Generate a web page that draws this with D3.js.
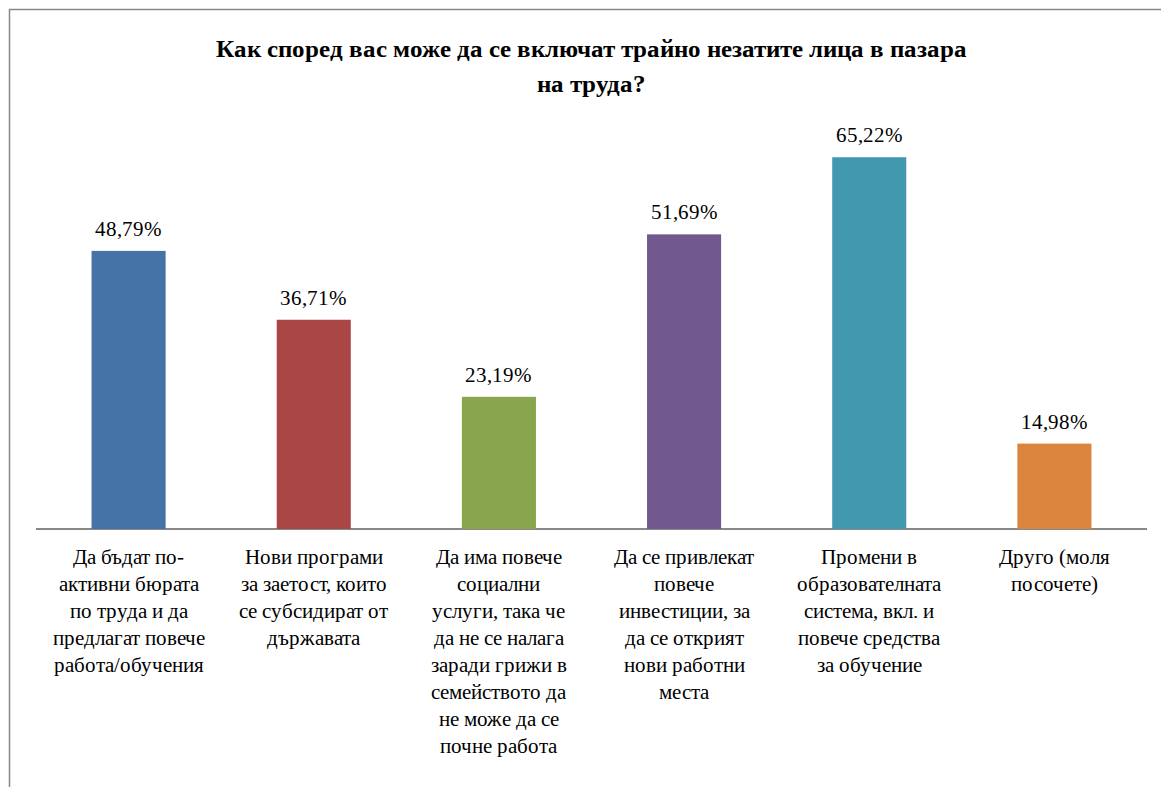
<!doctype html>
<html>
<head>
<meta charset="UTF-8">
<script src="https://d3js.org/d3.v7.min.js"></script>
<style>
@font-face { font-family: "ChartSerif"; src: local("Liberation Serif"), local("LiberationSerif"); font-weight: normal; }
@font-face { font-family: "ChartSerif"; src: local("Liberation Serif Bold"), local("LiberationSerif-Bold"); font-weight: bold; }
body { margin: 0; }
</style>
</head>
<body>
<script>
// data
var categories = [
  ["Да бъдат по-", "активни бюрата", "по труда и да", "предлагат повече", "работа/обучения"],
  ["Нови програми", "за заетост, които", "се субсидират от", "държавата"],
  ["Да има повече", "социални", "услуги, така че", "да не се налага", "заради грижи в", "семейството да", "не може да се", "почне работа"],
  ["Да се привлекат", "повече", "инвестиции, за", "да се открият", "нови работни", "места"],
  ["Промени в", "образователната", "система, вкл. и", "повече средства", "за обучение"],
  ["Друго (моля", "посочете)"]
];
var values = [48.79, 36.71, 23.19, 51.69, 65.22, 14.98];
var colors = ["#4572A7", "#AA4643", "#89A54E", "#71588F", "#4198AF", "#DB843D"];
var titleLines = ["Как според вас може да се включат трайно незатите лица в пазара", "на труда?"];

var FONT = "ChartSerif, 'Liberation Serif', serif";
var W = 1161, H = 787;
var svg = d3.select("body").append("svg")
  .attr("width", W).attr("height", H)
  .style("font-family", FONT);

// outer frame
svg.append("rect")
  .attr("x", 9.5).attr("y", 9.5)
  .attr("width", W + 20).attr("height", H + 20)
  .attr("fill", "none").attr("stroke", "#888").attr("stroke-width", 1.5);

var x = d3.scaleBand()
  .domain(d3.range(values.length))
  .range([36, 1147])
  .paddingInner(0.6).paddingOuter(0.3);

var y = d3.scaleLinear().domain([0, 70]).range([529, 130]);

// x axis (line only)
var gx = svg.append("g")
  .attr("transform", "translate(0," + y(0) + ")")
  .call(d3.axisBottom(x).tickSize(0).tickFormat(""));
gx.select(".domain").attr("stroke", "#888").attr("stroke-width", 2).attr("d", "M36,0H1147");

// bars
svg.selectAll(".bar").data(values).enter().append("rect")
  .attr("class", "bar")
  .attr("x", function(d, i) { return x(i); })
  .attr("y", function(d) { return y(d); })
  .attr("width", x.bandwidth())
  .attr("height", function(d) { return y(0) - y(d); })
  .attr("fill", function(d, i) { return colors[i]; });

// title
titleLines.forEach(function(t, i) {
  svg.append("text")
    .attr("x", 591).attr("y", 57 + i * 35)
    .attr("text-anchor", "middle")
    .style("font-family", FONT)
    .style("font-size", "25px").style("font-weight", "bold")
    .text(t);
});

// value labels
values.forEach(function(v, i) {
  svg.append("text")
    .attr("x", x(i) + x.bandwidth() / 2)
    .attr("y", y(v) - 15)
    .attr("text-anchor", "middle")
    .style("font-family", FONT)
    .style("font-size", "21px")
    .text(v.toFixed(2).replace(".", ",") + "%");
});

// category labels
categories.forEach(function(lines, i) {
  lines.forEach(function(t, j) {
    svg.append("text")
      .attr("x", x(i) + x.bandwidth() / 2)
      .attr("y", 564 + j * 27)
      .attr("text-anchor", "middle")
      .style("font-family", FONT)
      .style("font-size", "21px")
      .text(t);
  });
});
</script>
</body>
</html>
